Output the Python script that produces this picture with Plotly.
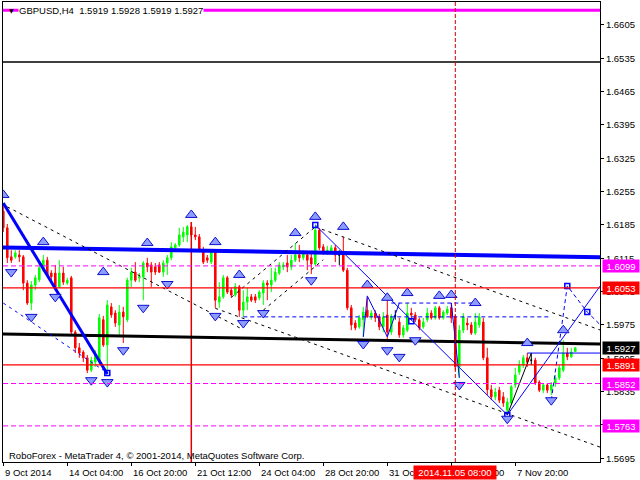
import plotly.graph_objects as go

# ---------------- data ----------------
bars = list(range(144))
opens = [1.6214,1.6179,1.6118,1.6118,1.6122,1.6118,1.6063,1.6021,1.6059,1.6070,
         1.6090,1.6111,1.6084,1.6084,1.6055,1.6084,1.6063,1.6074,1.5960,1.5927,
         1.5918,1.5906,1.5880,1.5897,1.5897,1.5986,1.5933,1.6013,1.6000,1.5975,
         1.6002,1.5986,1.6069,1.6086,1.6074,1.6076,1.6105,1.6101,1.6097,1.6101,
         1.6086,1.6105,1.6116,1.6137,1.6143,1.6160,1.6164,1.6181,1.6164,1.6160,
         1.6132,1.6116,1.6107,1.6128,1.6023,1.6034,1.6074,1.6048,1.6038,1.6055,
         1.6006,1.6023,1.6034,1.6034,1.6032,1.6042,1.6063,1.6059,1.6069,1.6084,
         1.6097,1.6105,1.6097,1.6111,1.6122,1.6116,1.6122,1.6116,1.6103,1.6174,
         1.6139,1.6126,1.6128,1.6137,1.6122,1.6128,1.6090,1.6011,1.5979,1.5971,
         1.5986,1.6006,1.5992,1.6000,1.5992,1.5971,1.5996,1.5960,1.5994,1.5981,
         1.5954,1.5964,1.6000,1.5996,1.5986,1.5971,1.5986,1.6000,1.5990,1.6011,
         1.5990,1.6000,1.6011,1.5992,1.5887,1.5964,1.5979,1.5975,1.5958,1.5975,
         1.5981,1.5906,1.5839,1.5824,1.5838,1.5824,1.5796,1.5811,1.5849,1.5876,
         1.5891,1.5906,1.5901,1.5901,1.5855,1.5838,1.5849,1.5838,1.5853,1.5864,
         1.5880,1.5916,1.5908,1.5919]
highs = [1.6227,1.6187,1.6132,1.6132,1.6132,1.6122,1.6069,1.6067,1.6080,1.6107,
         1.6122,1.6118,1.6090,1.6101,1.6111,1.6097,1.6074,1.6078,1.5964,1.5937,
         1.5922,1.5912,1.5908,1.5922,1.5998,1.5994,1.6027,1.6021,1.6006,1.6017,
         1.6013,1.6074,1.6095,1.6107,1.6084,1.6109,1.6116,1.6107,1.6105,1.6107,
         1.6111,1.6122,1.6149,1.6147,1.6179,1.6181,1.6185,1.6191,1.6181,1.6166,
         1.6139,1.6122,1.6132,1.6132,1.6065,1.6080,1.6078,1.6053,1.6063,1.6059,
         1.6048,1.6053,1.6040,1.6040,1.6048,1.6069,1.6069,1.6095,1.6095,1.6107,
         1.6107,1.6122,1.6122,1.6147,1.6143,1.6132,1.6128,1.6128,1.6185,1.6179,
         1.6145,1.6141,1.6143,1.6143,1.6132,1.6160,1.6095,1.6017,1.5985,1.5996,
         1.6013,1.6032,1.6006,1.6006,1.5998,1.6002,1.6027,1.5998,1.6006,1.5990,
         1.5975,1.6021,1.6011,1.6002,1.5990,1.5990,1.6011,1.6006,1.6015,1.6015,
         1.6006,1.6015,1.6021,1.5996,1.5975,1.6000,1.5990,1.5981,1.6000,1.6000,
         1.5990,1.5927,1.5849,1.5843,1.5845,1.5834,1.5822,1.5849,1.5885,1.5901,
         1.5912,1.5916,1.5916,1.5906,1.5859,1.5853,1.5853,1.5855,1.5870,1.5891,
         1.5943,1.5927,1.5927,1.5928]
lows = [1.6170,1.6105,1.6105,1.6114,1.6107,1.6048,1.6017,1.6006,1.6048,1.6065,
        1.6086,1.6076,1.6063,1.6048,1.6053,1.6059,1.6059,1.5956,1.5916,1.5906,
        1.5897,1.5874,1.5876,1.5887,1.5893,1.5929,1.5872,1.5990,1.5971,1.5950,
        1.5937,1.5981,1.6055,1.6065,1.6065,1.6027,1.6086,1.6055,1.6080,1.6084,
        1.6076,1.6080,1.6111,1.6128,1.6139,1.6149,1.6149,1.6160,1.6153,1.6128,
        1.6103,1.6105,1.6103,1.6011,1.6011,1.6030,1.6040,1.6032,1.6034,1.5992,
        1.5992,1.6006,1.6023,1.6021,1.6027,1.6017,1.6027,1.6044,1.6065,1.6080,
        1.6090,1.6086,1.6090,1.6107,1.6107,1.6111,1.6090,1.6082,1.6099,1.6132,
        1.6122,1.6122,1.6124,1.6107,1.6101,1.6086,1.6006,1.5964,1.5964,1.5967,
        1.5950,1.5990,1.5986,1.5981,1.5964,1.5960,1.5943,1.5954,1.5986,1.5948,
        1.5948,1.5960,1.5985,1.5981,1.5964,1.5967,1.5981,1.5986,1.5986,1.5986,
        1.5986,1.5996,1.5979,1.5880,1.5864,1.5958,1.5964,1.5954,1.5954,1.5969,
        1.5901,1.5828,1.5817,1.5817,1.5811,1.5803,1.5786,1.5807,1.5843,1.5870,
        1.5885,1.5887,1.5891,1.5849,1.5834,1.5832,1.5832,1.5828,1.5845,1.5859,
        1.5876,1.5901,1.5906,1.5919]
closes = [1.6179,1.6116,1.6111,1.6126,1.6118,1.6063,1.6021,1.6059,1.6074,1.6095,
          1.6111,1.6080,1.6076,1.6055,1.6084,1.6065,1.6069,1.5960,1.5927,1.5916,
          1.5906,1.5880,1.5901,1.5912,1.5990,1.5933,1.6017,1.5996,1.5979,1.6002,
          1.5992,1.6069,1.6086,1.6069,1.6076,1.6105,1.6097,1.6086,1.6086,1.6086,
          1.6105,1.6116,1.6139,1.6143,1.6164,1.6170,1.6181,1.6164,1.6160,1.6132,
          1.6107,1.6111,1.6128,1.6027,1.6034,1.6074,1.6044,1.6038,1.6055,1.6006,
          1.6023,1.6034,1.6027,1.6027,1.6044,1.6063,1.6059,1.6069,1.6086,1.6101,
          1.6101,1.6097,1.6111,1.6122,1.6116,1.6126,1.6111,1.6103,1.6174,1.6137,
          1.6128,1.6132,1.6137,1.6122,1.6122,1.6090,1.6011,1.5975,1.5969,1.5990,
          1.6002,1.5992,1.6000,1.5990,1.5971,1.5992,1.5960,1.5992,1.5994,1.5954,
          1.5969,1.6000,1.5996,1.5986,1.5969,1.5981,1.6000,1.5990,1.6011,1.5990,
          1.6002,1.6008,1.5990,1.5887,1.5964,1.5992,1.5975,1.5958,1.5981,1.5992,
          1.5906,1.5839,1.5824,1.5834,1.5817,1.5811,1.5813,1.5845,1.5870,1.5891,
          1.5906,1.5897,1.5901,1.5853,1.5838,1.5849,1.5838,1.5849,1.5864,1.5885,
          1.5916,1.5908,1.5918,1.5927]

xtick_bars = [0, 16, 32, 48, 64, 80, 96, 112, 128]
xtick_labels = ["9 Oct 2014", "14 Oct 04:00", "16 Oct 20:00", "21 Oct 12:00",
                "24 Oct 04:00", "28 Oct 20:00", "31 Oct 12:00", "5 Nov 04:00", "7 Nov 20:00"]
ytick_vals = [1.6605, 1.6535, 1.6465, 1.6395, 1.6325, 1.6255, 1.6185, 1.6115,
              1.6045, 1.5975, 1.5905, 1.5835, 1.5765, 1.5695]

level_magenta_top = 1.6636
level_black_top = 1.6527
levels_red = [1.6053, 1.5891]
levels_magenta_dash = [1.6099, 1.5852, 1.5763]
price_boxes = [1.6099, 1.6053, 1.5927, 1.5891, 1.5852, 1.5763]
price_box_colors = ["#ff00ff", "#ff0000", "#000000", "#ff0000", "#ff00ff", "#ff00ff"]

trend_blue_x, trend_blue_y = [-1, 150], [1.6138, 1.6117]
trend_black_x, trend_black_y = [-1, 150], [1.5956, 1.5935]
wave1_x, wave1_y = [0, 26], [1.6231, 1.5872]
wave1_dash_x, wave1_dash_y = [0, 25], [1.6021, 1.5880]
chanA_x, chanA_y = [1, 60], [1.6223, 1.5965]
chanB_x, chanB_y = [53, 150], [1.6010, 1.5716]
chanC_x, chanC_y = [78, 150], [1.6181, 1.5962]
riseR1_x, riseR1_y = [57, 78], [1.6033, 1.6181]
riseR2_x, riseR2_y = [65, 80], [1.6006, 1.6112]
wave2_x, wave2_y = [78, 126], [1.6185, 1.5786]
wave_small_x, wave_small_y = [90, 91, 96, 99], [1.5950, 1.6036, 1.5950, 1.6021]
wave_drop_x, wave_drop_y = [112, 114], [1.6021, 1.5864]
dash_h1_x, dash_h1_y = [60, 137], [1.5992, 1.5992]
dash_h2_x, dash_h2_y = [97, 119], [1.6021, 1.6021]
blue_h_x, blue_h_y = [131, 150], [1.5916, 1.5916]
black_up_x, black_up_y = [126, 132], [1.5786, 1.5916]
blue_up_x, blue_up_y = [126, 150], [1.5786, 1.6066]
proj_x, proj_y = [137, 141, 146, 150], [1.5817, 1.6057, 1.6002, 1.5969]
sq_x = [26, 78, 102, 126, 141, 146]
sq_y = [1.5874, 1.6185, 1.5983, 1.5786, 1.6057, 1.6002]

up_arrow_x = [0, 10, 25, 36, 47, 53, 59, 73, 78, 85, 91, 96, 101, 109, 112, 118, 131, 140]
up_arrow_y = [1.6248, 1.6149, 1.6086, 1.6147, 1.6206, 1.6149, 1.6080, 1.6168, 1.6202,
              1.6181, 1.6059, 1.6032, 1.6042, 1.6036, 1.6038, 1.6021, 1.5937, 1.5964]
down_arrow_x = [2, 7, 13, 22, 26, 30, 35, 41, 53, 60, 65, 77, 90, 96, 99, 103, 114, 126, 137]
down_arrow_y = [1.6086, 1.5992, 1.6034, 1.5859, 1.5855, 1.5922, 1.6011, 1.6061, 1.5994,
                1.5979, 1.6000, 1.6069, 1.5935, 1.5922, 1.5908, 1.5943, 1.5849, 1.5778, 1.5817]

red_vline_bar, red_vline_top = 47, 1.6191
cursor_bar = 113
cursor_label = "2014.11.05 08:00"
title_text = "GBPUSD,H4\u00a0\u00a01.5919 1.5928 1.5919 1.5927"
footer_text = "RoboForex - MetaTrader 4, \u00a9 2001-2014, MetaQuotes Software Corp."

# ---------------- figure ----------------
X0, X1 = -0.075, 149.175
Y0, Y1 = 1.56872, 1.66532
FONT = "Liberation Sans, Arial, sans-serif"

fig = go.Figure()

norm = [i for i in bars if opens[i] != closes[i]]
doji = [i for i in bars if opens[i] == closes[i]]

fig.add_trace(go.Candlestick(
    x=[bars[i] for i in norm], open=[opens[i] for i in norm], high=[highs[i] for i in norm],
    low=[lows[i] for i in norm], close=[closes[i] for i in norm],
    increasing=dict(line=dict(color="#00ff00", width=1), fillcolor="#00ff00"),
    decreasing=dict(line=dict(color="#ff0000", width=1), fillcolor="#ff0000"),
    whiskerwidth=0, hoverinfo="skip", showlegend=False))
fig.add_trace(go.Candlestick(
    x=[bars[i] for i in doji], open=[opens[i] for i in doji], high=[highs[i] for i in doji],
    low=[lows[i] for i in doji], close=[closes[i] for i in doji],
    increasing=dict(line=dict(color="#000000", width=1), fillcolor="#000000"),
    decreasing=dict(line=dict(color="#000000", width=1), fillcolor="#000000"),
    whiskerwidth=0, hoverinfo="skip", showlegend=False))

def line(x, y, color, width=1, dash="solid"):
    fig.add_trace(go.Scatter(x=x, y=y, mode="lines", line=dict(color=color, width=width, dash=dash),
                             hoverinfo="skip", showlegend=False))

shapes = []
def hline(y, color, width=1, dash="solid"):
    shapes.append(dict(type="line", xref="paper", x0=0, x1=1, yref="y", y0=y, y1=y,
                       line=dict(color=color, width=width, dash=dash)))

hline(level_magenta_top, "#ff00ff", 3)
hline(level_black_top, "#000000", 1.5)
for v in levels_red:
    hline(v, "#ff0000", 1.2)
for v in levels_magenta_dash:
    hline(v, "#ff00ff", 1, "5px,3px")
shapes.append(dict(type="line", xref="x", x0=cursor_bar, x1=cursor_bar, yref="paper", y0=0, y1=1,
                   line=dict(color="#cc0000", width=1, dash="4px,2px")))

line([red_vline_bar, red_vline_bar], [red_vline_top, Y0], "#e00000", 1.5)
line(trend_blue_x, trend_blue_y, "#0000ff", 4)
line(trend_black_x, trend_black_y, "#000000", 3)
line(wave1_x, wave1_y, "#0000ff", 3)
line(wave1_dash_x, wave1_dash_y, "#0000ff", 1, "3px,4px")
line(chanA_x, chanA_y, "#000000", 1, "3px,4px")
line(chanB_x, chanB_y, "#000000", 1, "3px,4px")
line(chanC_x, chanC_y, "#000000", 1, "3px,4px")
line(riseR1_x, riseR1_y, "#000000", 1, "3px,4px")
line(riseR2_x, riseR2_y, "#000000", 1, "3px,4px")
line(wave2_x, wave2_y, "#0000ff", 1)
line(wave_small_x, wave_small_y, "#0000ff", 1)
line(wave_drop_x, wave_drop_y, "#0000ff", 1)
line(dash_h1_x, dash_h1_y, "#0000ff", 1, "4px,3px")
line(dash_h2_x, dash_h2_y, "#0000ff", 1, "4px,3px")
line(blue_h_x, blue_h_y, "#0000ff", 1)
line(black_up_x, black_up_y, "#000000", 1)
line(blue_up_x, blue_up_y, "#0000ff", 1)
line(proj_x, proj_y, "#0000ff", 1, "4px,3px")

fig.add_trace(go.Scatter(x=sq_x, y=sq_y, mode="markers",
                         marker=dict(symbol="square-open", size=5, color="#0000ff", line=dict(width=1.5)),
                         hoverinfo="skip", showlegend=False))
fig.add_trace(go.Scatter(x=up_arrow_x, y=up_arrow_y, mode="markers",
                         marker=dict(symbol="triangle-up", size=10, color="#8c9cff",
                                     line=dict(color="#1010d0", width=1)),
                         hoverinfo="skip", showlegend=False))
fig.add_trace(go.Scatter(x=down_arrow_x, y=down_arrow_y, mode="markers",
                         marker=dict(symbol="triangle-down", size=10, color="#8c9cff",
                                     line=dict(color="#1010d0", width=1)),
                         hoverinfo="skip", showlegend=False))

annotations = []
for b, t in zip(xtick_bars, xtick_labels):
    annotations.append(dict(x=b, xref="x", y=0, yref="paper", yshift=-10, xanchor="left",
                            yanchor="middle", text=t, showarrow=False,
                            font=dict(family=FONT, size=9.5, color="black")))
annotations.append(dict(x=cursor_bar, xref="x", y=0, yref="paper", yshift=-10, xanchor="center",
                        yanchor="middle", text=cursor_label, showarrow=False, bgcolor="#ff0000",
                        borderpad=1, width=80, font=dict(family=FONT, size=9.5, color="white")))
for v, c in zip(price_boxes, price_box_colors):
    annotations.append(dict(x=1, xref="paper", xshift=2, y=v, yref="y", xanchor="left",
                            yanchor="middle", text=f"{v:.4f}", showarrow=False, bgcolor=c,
                            borderpad=0, width=36, height=12,
                            font=dict(family=FONT, size=9.5, color="white")))
annotations.append(dict(x=0.025, xref="paper", y=level_magenta_top, yref="y", xanchor="left",
                        yanchor="middle", text=title_text, showarrow=False, bgcolor="white",
                        borderpad=0, font=dict(family=FONT, size=9.5, color="black")))
annotations.append(dict(x=0.007, xref="paper", y=level_magenta_top, yref="y", xanchor="left",
                        yanchor="middle", text="\u25bc", showarrow=False,
                        font=dict(family="DejaVu Sans", size=6, color="black")))
annotations.append(dict(x=0.007, xref="paper", y=0, yref="paper", yshift=7, xanchor="left",
                        yanchor="middle", text=footer_text, showarrow=False,
                        font=dict(family=FONT, size=9.5, color="black")))

fig.update_layout(
    width=640, height=480, margin=dict(l=3, r=40, t=2, b=18),
    paper_bgcolor="white", plot_bgcolor="white", boxgap=0.45,
    shapes=shapes, annotations=annotations, showlegend=False,
    xaxis=dict(range=[X0, X1], showgrid=False, zeroline=False, rangeslider=dict(visible=False),
               showline=True, mirror=True, linecolor="black", linewidth=1,
               tickvals=xtick_bars, ticks="outside", ticklen=3, tickcolor="black",
               showticklabels=False, fixedrange=True),
    yaxis=dict(range=[Y0, Y1], side="right", showgrid=False, zeroline=False,
               showline=True, mirror=True, linecolor="black", linewidth=1,
               tickvals=ytick_vals, ticktext=[f"{v:.4f}" for v in ytick_vals],
               ticks="outside", ticklen=3, tickcolor="black",
               tickfont=dict(family=FONT, size=9.5, color="black"), fixedrange=True),
)

fig.write_html("out.html", config={"displayModeBar": False},
               post_script="document.body.style.margin='0';document.body.style.overflow='hidden';")
